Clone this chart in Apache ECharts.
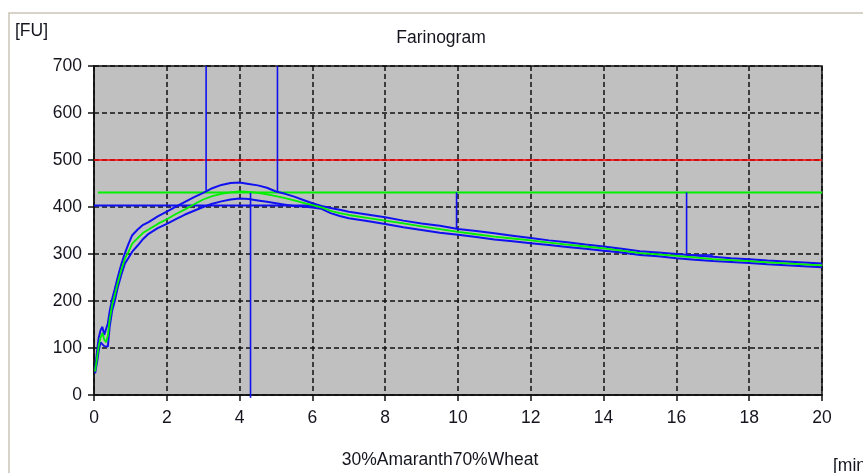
<!DOCTYPE html>
<html>
<head>
<meta charset="utf-8">
<script src="https://cdn.jsdelivr.net/npm/echarts@6.0.0/dist/echarts.min.js"></script>
<style>
html,body{margin:0;padding:0;background:#fff;}
#chart{width:863px;height:473px;}
</style>
</head>
<body>
<div id="chart"></div>
<script>
// ---- data ----
var timeMin = [0.03,0.08,0.13,0.18,0.23,0.28,0.33,0.38,0.43,0.50,0.57,0.65,0.75,0.85,0.95,1.05,1.20,1.35,1.50,1.75,
  2.00,2.25,2.50,2.75,3.00,3.25,3.50,3.75,4.00,4.25,4.50,4.75,5.00,5.25,5.50,5.75,6.00,6.25,6.50,6.75,
  7.00,7.50,8.00,8.50,9.00,9.50,10.00,10.50,11.00,11.50,12.00,12.50,13.00,13.50,14.00,14.50,15.00,15.50,16.00,16.50,
  17.00,17.50,18.00,18.50,19.00,19.50,20.00];
var upperFU = [55,90,122,138,145,128,132,152,178,205,225,250,278,302,322,340,352,362,368,380,
  390,401,411,421,430,440,447,451,452,449,446,441,433,428,422,415,408,402,398,394,
  390,384,378,371,365,360,353,349,344,339,334,329,325,320,316,311,306,303,300,297,
  294,291,289,286,284,282,280];
var medianFU = [50,78,105,122,132,118,112,126,160,192,212,238,266,290,305,322,334,345,352,364,
  374,385,395,406,416,423,428,431,433,432,430,427,423,419,414,409,404,399,392,387,
  383,377,371,365,359,353,347,342,337,333,329,324,320,316,312,307,302,299,296,293,
  289,287,285,282,280,278,276];
var lowerFU = [46,68,95,112,110,104,102,103,145,180,200,228,256,280,292,305,318,332,343,355,
  364,374,384,392,400,407,412,416,418,417,414,411,408,405,402,401,399,396,387,381,
  376,370,364,357,351,345,341,336,331,327,323,319,315,311,307,303,298,295,291,288,
  285,283,281,278,276,274,272];

var redLevel = 500;          // upper limit line
var greenLevel = 431;        // consistency line
var greenStart = 0.11;
var blueLevel = 403;
var blueEnd = 6.15;
var markerTimes  = [3.08, 5.04, 4.30, 9.96, 16.28];
var markerTop    = [700, 700, 430, 431, 431];
var markerBottom = [435, 433, -6, 355, 298];
var markerTailEnd = 17.0;    // short horizontal after the last marker

var xTicks = [0,2,4,6,8,10,12,14,16,18,20];
var yTicks = [0,100,200,300,400,500,600,700];

// ---- build ----
function pairs(xs, ys){ return xs.map(function(x,i){ return [x, ys[i]]; }); }

var FONT = 'Liberation Sans, Arial, sans-serif';
var FS = 17.5;
var TXT = '#15151f';
var BLUE = '#1010f0';
var GREEN = '#00f000';

var series = [];
series.push({type:'line', data:[[0,redLevel],[20,redLevel]], symbol:'none', lineStyle:{color:'#ff0000', width:1.6}, z:2});
series.push({type:'line', data:[[greenStart,greenLevel],[20,greenLevel]], symbol:'none', lineStyle:{color:GREEN, width:1.9}, z:2});
series.push({type:'line', data:[[0,blueLevel],[blueEnd,blueLevel]], symbol:'none', lineStyle:{color:BLUE, width:2}, z:3});
series.push({type:'line', data:pairs(timeMin, upperFU), symbol:'none', lineStyle:{color:BLUE, width:2}, z:4});
series.push({type:'line', data:pairs(timeMin, lowerFU), symbol:'none', lineStyle:{color:BLUE, width:2}, z:4});
series.push({type:'line', data:pairs(timeMin, medianFU), symbol:'none', lineStyle:{color:GREEN, width:1.8}, z:5});
markerTimes.forEach(function(t, i){
  var d = [[t, markerTop[i]], [t, markerBottom[i]]];
  if (i === markerTimes.length - 1) d.push([markerTailEnd, markerBottom[i]]);
  series.push({type:'line', data:d, symbol:'none', clip:false, lineStyle:{color:BLUE, width:1.6}, z:6});
});

var chart = echarts.init(document.getElementById('chart'), null, {renderer:'canvas'});
chart.setOption({
  animation:false,
  backgroundColor:'#ffffff',
  grid:{left:94, top:66, width:728, height:329, show:true, backgroundColor:'#c0c0c0', borderColor:'#111', borderWidth:1.5},
  xAxis:{
    type:'value', min:0, max:20, interval:2,
    axisLine:{show:true, lineStyle:{color:'#111', width:1.5}},
    axisTick:{show:true, length:6, lineStyle:{color:'#111', width:1.5}},
    axisLabel:{margin:14, color:TXT, fontFamily:FONT, fontSize:FS,
      formatter:function(v){ return xTicks.indexOf(v) >= 0 ? String(v) : ''; }},
    splitLine:{show:true, lineStyle:{color:'#111', width:1.5, type:[5,3]}}
  },
  yAxis:{
    type:'value', min:0, max:700, interval:100,
    axisLine:{show:true, lineStyle:{color:'#111', width:1.5}},
    axisTick:{show:true, length:6, lineStyle:{color:'#111', width:1.5}},
    axisLabel:{margin:12, color:TXT, fontFamily:FONT, fontSize:FS,
      formatter:function(v){ return yTicks.indexOf(v) >= 0 ? String(v) : ''; }},
    splitLine:{show:true, lineStyle:{color:'#111', width:1.5, type:[5,3]}}
  },
  graphic:[
    {type:'rect', shape:{x:9, y:13, width:900, height:520}, style:{fill:'none', stroke:'#cac5b7', lineWidth:1.5}, z:-10, silent:true},
    {type:'text', left:15, top:22, style:{text:'[FU]', fill:TXT, font:FS+'px '+FONT}},
    {type:'text', x:441, y:29, style:{text:'Farinogram', fill:TXT, font:FS+'px '+FONT, textAlign:'center'}},
    {type:'text', x:440, y:451, style:{text:'30%Amaranth70%Wheat', fill:TXT, font:FS+'px '+FONT, textAlign:'center'}},
    {type:'text', x:833, y:457, style:{text:'[min]', fill:TXT, font:FS+'px '+FONT}}
  ],
  series:series
});
</script>
</body>
</html>
